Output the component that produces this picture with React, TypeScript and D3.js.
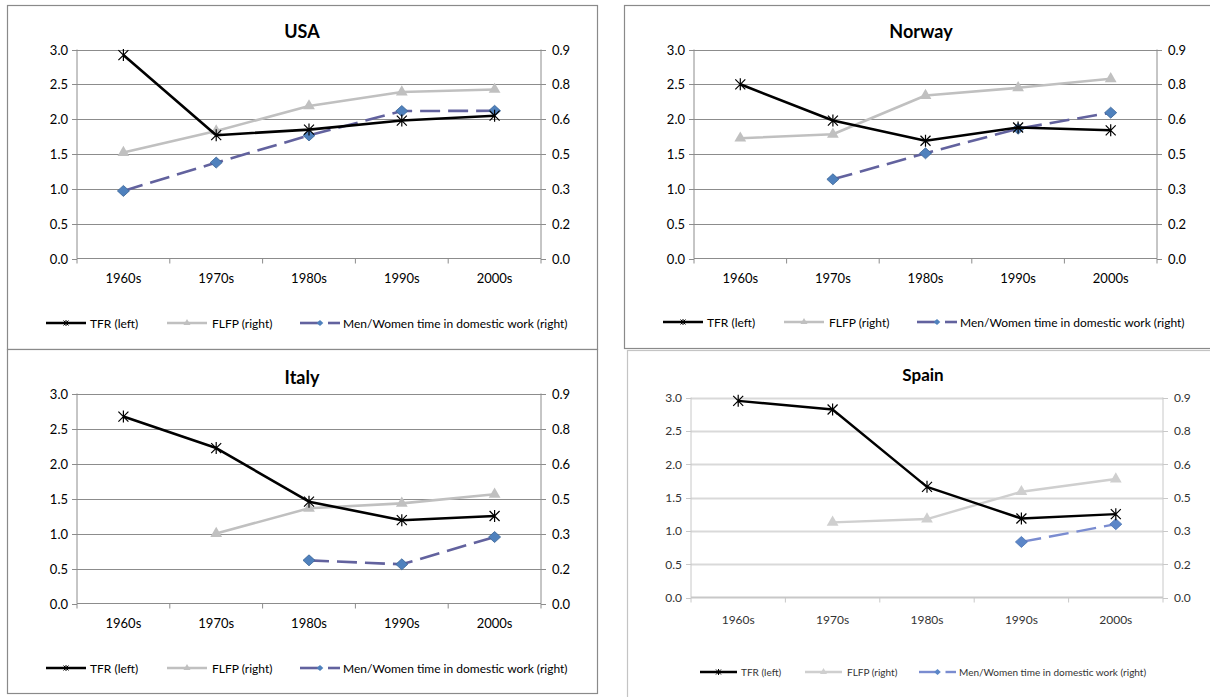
import * as d3 from "d3";
import React from "react";

// categories and tick labels
const categories = ["1960s", "1970s", "1980s", "1990s", "2000s"];
const leftTicks = [0, 0.5, 1, 1.5, 2, 2.5, 3];
const leftTickLabels = ["0.0", "0.5", "1.0", "1.5", "2.0", "2.5", "3.0"];
const rightTicks = [0, 0.15, 0.3, 0.45, 0.6, 0.75, 0.9];
const rightTickLabels = ["0.0", "0.2", "0.3", "0.5", "0.6", "0.8", "0.9"];
const legendLabels = ["TFR (left)", "FLFP (right)", "Men/Women time in domestic work (right)"];

// series (TFR on left axis, the other two on right axis)
const usaTFR = [2.92, 1.77, 1.85, 1.98, 2.05];
const usaFLFP = [0.456, 0.549, 0.657, 0.717, 0.728];
const usaMW = [0.291, 0.413, 0.53, 0.635, 0.636];

const norwayTFR = [2.5, 1.98, 1.69, 1.88, 1.84];
const norwayFLFP = [0.518, 0.535, 0.702, 0.735, 0.774];
const norwayMW = [null, 0.341, 0.453, 0.559, 0.628];

const italyTFR = [2.67, 2.22, 1.455, 1.19, 1.25];
const italyFLFP = [null, 0.3, 0.408, 0.429, 0.468];
const italyMW = [null, null, 0.185, 0.168, 0.285];

const spainTFR = [2.95, 2.82, 1.66, 1.185, 1.25];
const spainFLFP = [null, 0.338, 0.353, 0.476, 0.533];
const spainMW = [null, null, null, 0.25, 0.33];

type Val = number | null;

interface Theme {
  font: string;
  text: string;
  grid: string;
  gridW: number;
  axis: string;
  border: string;
  tickSize: number;
  titleSize: number;
  legendSize: number;
  lineW: number;
  mwColor: string;
  diamondFill: string;
  diamondStroke: string;
  flfp: string;
  legendGap: number[];
  legendLine: number;
}

const crisp: Theme = {
  font: "Lato, 'Open Sans', sans-serif",
  text: "#000",
  grid: "#8c8c8c",
  gridW: 1,
  axis: "#8c8c8c",
  border: "#8a8a8a",
  tickSize: 13,
  titleSize: 18,
  legendSize: 12,
  lineW: 2.6,
  mwColor: "#62629e",
  diamondFill: "#4f81bd",
  diamondStroke: "#3b6496",
  flfp: "#c0c0c0",
  legendGap: [0, 121, 254],
  legendLine: 40,
};

const soft: Theme = {
  font: "Lato, 'Open Sans', sans-serif",
  text: "#333",
  grid: "#d9d9d9",
  gridW: 1.8,
  axis: "#c8c8c8",
  border: "#c4c4c4",
  tickSize: 12,
  titleSize: 17,
  legendSize: 10,
  lineW: 2.4,
  mwColor: "#7a8cd0",
  diamondFill: "#5b86c8",
  diamondStroke: "#4a74b4",
  flfp: "#cfcfcf",
  legendGap: [0, 105, 219],
  legendLine: 37,
};

const asterisk = "M-5,-5L5,5M-5,5L5,-5M0,-6L0,6";
const diamond = "M0,-5.5L6,0L0,5.5L-6,0Z";
const triangle = d3.symbol(d3.symbolTriangle, 60)() as string;

interface PanelProps {
  title: string;
  tfr: Val[];
  flfp: Val[];
  mw: Val[];
  box: { x: number; y: number; w: number; h: number };
  plot: { left: number; right: number; top: number; bottom: number };
  titleX: number;
  titleY: number;
  catY: number;
  legendX: number;
  legendY: number;
  theme: Theme;
}

const Panel = (p: PanelProps) => {
  const t = p.theme;
  const x = d3.scaleBand().domain(categories).range([p.plot.left, p.plot.right]);
  const yL = d3.scaleLinear().domain([0, 3]).range([p.plot.bottom, p.plot.top]);
  const yR = d3.scaleLinear().domain([0, 0.9]).range([p.plot.bottom, p.plot.top]);
  const cx = (i: number) => (x(categories[i]) as number) + x.bandwidth() / 2;

  const mkLine = (y: d3.ScaleLinear<number, number>) =>
    d3
      .line<Val>()
      .defined((d) => d !== null)
      .x((_, i) => cx(i))
      .y((d) => y(d as number));

  const edges = d3.range(categories.length + 1).map((i) =>
    i < categories.length ? (x(categories[i]) as number) : p.plot.right
  );

  const lx = p.legendX;
  const ll = t.legendLine;

  return (
    <g fontFamily={t.font}>
      <rect
        x={p.box.x + 0.5}
        y={p.box.y + 0.5}
        width={p.box.w}
        height={p.box.h}
        fill="#fff"
        stroke={t.border}
        strokeWidth={1.2}
      />
      <text x={p.titleX} y={p.titleY} textAnchor="middle" dominantBaseline="central" fontWeight="bold" fontSize={t.titleSize} fill="#000">
        {p.title}
      </text>
      {/* gridlines */}
      {leftTicks.slice(1).map((v) => (
        <line key={v} x1={p.plot.left} x2={p.plot.right} y1={Math.round(yL(v)) + 0.5} y2={Math.round(yL(v)) + 0.5} stroke={t.grid} strokeWidth={t.gridW} />
      ))}
      {/* axes */}
      <line x1={p.plot.left} x2={p.plot.left} y1={p.plot.top} y2={p.plot.bottom} stroke={t.axis} />
      <line x1={p.plot.right} x2={p.plot.right} y1={p.plot.top} y2={p.plot.bottom} stroke={t.axis} />
      <line x1={p.plot.left} x2={p.plot.right} y1={p.plot.bottom} y2={p.plot.bottom} stroke={t.axis} strokeWidth={t.gridW} />
      {leftTicks.map((v, i) => (
        <g key={"l" + v}>
          <line x1={p.plot.left - 5} x2={p.plot.left} y1={Math.round(yL(v)) + 0.5} y2={Math.round(yL(v)) + 0.5} stroke={t.axis} />
          <text x={p.plot.left - 9} y={yL(v)} textAnchor="end" dominantBaseline="central" fontSize={t.tickSize} fill={t.text}>
            {leftTickLabels[i]}
          </text>
        </g>
      ))}
      {rightTicks.map((v, i) => (
        <g key={"r" + v}>
          <line x1={p.plot.right} x2={p.plot.right + 5} y1={Math.round(yR(v)) + 0.5} y2={Math.round(yR(v)) + 0.5} stroke={t.axis} />
          <text x={p.plot.right + 11} y={yR(v)} textAnchor="start" dominantBaseline="central" fontSize={t.tickSize} fill={t.text}>
            {rightTickLabels[i]}
          </text>
        </g>
      ))}
      {edges.map((e, i) => (
        <line key={"e" + i} x1={e} x2={e} y1={p.plot.bottom} y2={p.plot.bottom + 5} stroke={t.axis} />
      ))}
      {categories.map((c, i) => (
        <text key={c} x={cx(i)} y={p.catY} textAnchor="middle" dominantBaseline="central" fontSize={t.tickSize} fill={t.text}>
          {c}
        </text>
      ))}
      {/* series */}
      <path d={mkLine(yR)(p.flfp) || ""} fill="none" stroke={t.flfp} strokeWidth={t.lineW} strokeLinejoin="round" />
      {p.flfp.map((d, i) =>
        d === null ? null : <path key={"f" + i} d={triangle} transform={`translate(${cx(i)},${yR(d)})`} fill={t.flfp} />
      )}
      <path d={mkLine(yR)(p.mw) || ""} fill="none" stroke={t.mwColor} strokeWidth={t.lineW} strokeDasharray="20,8" />
      {p.mw.map((d, i) =>
        d === null ? null : (
          <path key={"m" + i} d={diamond} transform={`translate(${cx(i)},${yR(d)})`} fill={t.diamondFill} stroke={t.diamondStroke} strokeWidth={0.8} />
        )
      )}
      <path d={mkLine(yL)(p.tfr) || ""} fill="none" stroke="#000" strokeWidth={t.lineW} strokeLinejoin="round" />
      {p.tfr.map((d, i) =>
        d === null ? null : <path key={"t" + i} d={asterisk} transform={`translate(${cx(i)},${yL(d as number)})`} fill="none" stroke="#000" strokeWidth={1.2} />
      )}
      {/* legend */}
      <g fontSize={t.legendSize} fill={t.text}>
        <line x1={lx + t.legendGap[0]} x2={lx + t.legendGap[0] + ll} y1={p.legendY} y2={p.legendY} stroke="#000" strokeWidth={t.lineW} />
        <path d={asterisk} transform={`translate(${lx + t.legendGap[0] + ll / 2},${p.legendY}) scale(0.5)`} stroke="#000" strokeWidth={2} />
        <text x={lx + t.legendGap[0] + ll + 4} y={p.legendY} dominantBaseline="central">
          {legendLabels[0]}
        </text>
        <line x1={lx + t.legendGap[1]} x2={lx + t.legendGap[1] + ll} y1={p.legendY} y2={p.legendY} stroke={t.flfp} strokeWidth={t.lineW} />
        <path d={triangle} transform={`translate(${lx + t.legendGap[1] + ll / 2},${p.legendY}) scale(0.6)`} fill={t.flfp} />
        <text x={lx + t.legendGap[1] + ll + 5} y={p.legendY} dominantBaseline="central">
          {legendLabels[1]}
        </text>
        <line x1={lx + t.legendGap[2]} x2={lx + t.legendGap[2] + ll / 2} y1={p.legendY} y2={p.legendY} stroke={t.mwColor} strokeWidth={t.lineW} />
        <line x1={lx + t.legendGap[2] + ll / 2 + 8} x2={lx + t.legendGap[2] + ll} y1={p.legendY} y2={p.legendY} stroke={t.mwColor} strokeWidth={t.lineW} />
        <path d={diamond} transform={`translate(${lx + t.legendGap[2] + ll / 2},${p.legendY}) scale(0.55)`} fill={t.diamondFill} />
        <text x={lx + t.legendGap[2] + ll + 3} y={p.legendY} dominantBaseline="central">
          {legendLabels[2]}
        </text>
      </g>
    </g>
  );
};

const App = () => {
  return (
    <svg width={1210} height={697} style={{ position: "absolute", left: 0, top: 0, background: "#fff" }}>
      <Panel
        title="USA"
        tfr={usaTFR}
        flfp={usaFLFP}
        mw={usaMW}
        box={{ x: 7, y: 5, w: 590, h: 344 }}
        plot={{ left: 77, right: 541, top: 49.5, bottom: 258.5 }}
        titleX={302}
        titleY={31}
        catY={278}
        legendX={46}
        legendY={323}
        theme={crisp}
      />
      <Panel
        title="Norway"
        tfr={norwayTFR}
        flfp={norwayFLFP}
        mw={norwayMW}
        box={{ x: 624, y: 5, w: 600, h: 343 }}
        plot={{ left: 694, right: 1157, top: 49.5, bottom: 258.5 }}
        titleX={921}
        titleY={31}
        catY={278}
        legendX={663}
        legendY={322}
        theme={crisp}
      />
      <Panel
        title="Italy"
        tfr={italyTFR}
        flfp={italyFLFP}
        mw={italyMW}
        box={{ x: 7, y: 349, w: 590, h: 344 }}
        plot={{ left: 77, right: 541, top: 393.5, bottom: 603.5 }}
        titleX={302}
        titleY={377}
        catY={623}
        legendX={46}
        legendY={668}
        theme={crisp}
      />
      <Panel
        title="Spain"
        tfr={spainTFR}
        flfp={spainFLFP}
        mw={spainMW}
        box={{ x: 627, y: 350, w: 600, h: 400 }}
        plot={{ left: 691, right: 1163, top: 397.5, bottom: 597.5 }}
        titleX={923}
        titleY={374}
        catY={619}
        legendX={700}
        legendY={672}
        theme={soft}
      />
    </svg>
  );
};

export default App;
